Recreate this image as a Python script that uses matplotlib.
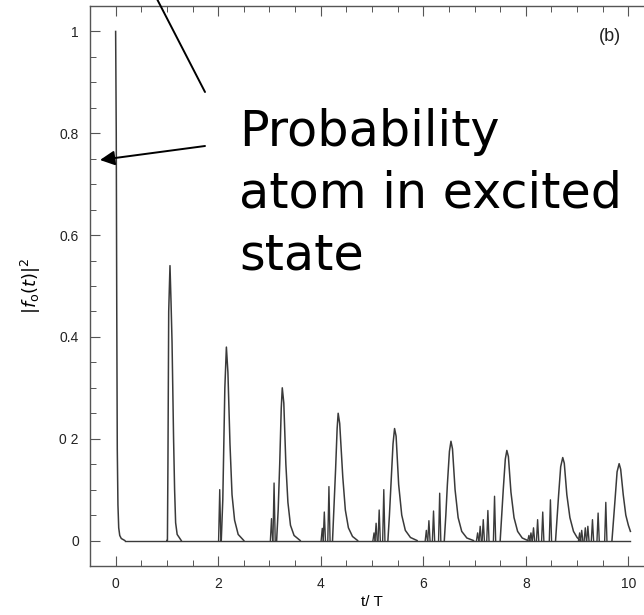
import numpy as np
import matplotlib
matplotlib.use("Agg")
import matplotlib.pyplot as plt
from matplotlib.ticker import MultipleLocator, FixedLocator

# main envelope of |f0(t)|^2 (t/T, value)
peak_t = [
    [0.0, 0.012, 0.022, 0.032, 0.045, 0.06, 0.08, 0.11, 0.18],
    [1.0, 1.01, 1.02, 1.035, 1.06, 1.08, 1.10, 1.13, 1.15, 1.17, 1.20, 1.28],
    [2.05, 2.06, 2.09, 2.11, 2.13, 2.16, 2.19, 2.23, 2.27, 2.32, 2.39, 2.50],
    [3.14, 3.17, 3.20, 3.23, 3.25, 3.28, 3.32, 3.36, 3.41, 3.48, 3.60],
    [4.23, 4.26, 4.29, 4.32, 4.34, 4.37, 4.43, 4.48, 4.54, 4.62, 4.72],
    [5.31, 5.34, 5.37, 5.41, 5.44, 5.47, 5.52, 5.58, 5.65, 5.75, 5.88],
    [6.41, 6.44, 6.47, 6.51, 6.54, 6.57, 6.62, 6.68, 6.75, 6.85, 6.98],
    [7.50, 7.53, 7.56, 7.60, 7.63, 7.66, 7.71, 7.77, 7.84, 7.93, 8.04],
    [8.58, 8.61, 8.64, 8.68, 8.72, 8.75, 8.80, 8.86, 8.93, 9.00, 9.06],
    [9.68, 9.71, 9.74, 9.78, 9.82, 9.85, 9.90, 9.95, 10.0, 10.04],
]
peak_p = [
    [1.0, 0.80, 0.45, 0.18, 0.07, 0.025, 0.01, 0.004, 0.0],
    [0.0, 0.0, 0.15, 0.45, 0.54, 0.47, 0.39, 0.20, 0.10, 0.035, 0.012, 0.0],
    [0.0, 0.0, 0.08, 0.19, 0.30, 0.38, 0.33, 0.19, 0.09, 0.04, 0.012, 0.0],
    [0.0, 0.06, 0.15, 0.26, 0.30, 0.27, 0.15, 0.075, 0.03, 0.01, 0.0],
    [0.0, 0.07, 0.14, 0.22, 0.25, 0.23, 0.125, 0.06, 0.025, 0.008, 0.0],
    [0.0, 0.05, 0.11, 0.19, 0.22, 0.205, 0.11, 0.05, 0.02, 0.006, 0.0],
    [0.0, 0.05, 0.11, 0.175, 0.195, 0.18, 0.10, 0.045, 0.018, 0.005, 0.0],
    [0.0, 0.05, 0.10, 0.16, 0.177, 0.165, 0.095, 0.045, 0.018, 0.005, 0.0],
    [0.0, 0.045, 0.09, 0.145, 0.163, 0.152, 0.09, 0.045, 0.018, 0.006, 0.0],
    [0.0, 0.04, 0.08, 0.135, 0.151, 0.14, 0.09, 0.05, 0.03, 0.018],
]

# narrow precursor spikes before each revival
spike_t = [2.03, 3.04, 3.09, 4.03, 4.07, 4.16, 5.04, 5.08, 5.14, 5.23,
           6.06, 6.11, 6.20, 6.32, 7.06, 7.11, 7.17, 7.26, 7.39,
           8.06, 8.10, 8.15, 8.23, 8.33, 8.48,
           9.05, 9.09, 9.16, 9.21, 9.30, 9.41, 9.56]
spike_h = [0.10, 0.043, 0.113, 0.024, 0.056, 0.106, 0.015, 0.034, 0.06, 0.10,
           0.02, 0.039, 0.058, 0.093, 0.015, 0.028, 0.041, 0.059, 0.087,
           0.01, 0.015, 0.025, 0.041, 0.056, 0.08,
           0.015, 0.02, 0.025, 0.028, 0.041, 0.054, 0.075]

yticks = [0, 0.2, 0.4, 0.6, 0.8, 1]
ytick_labels = ["0", "0 2", "0.4", "0.6", "0.8", "1"]
xticks = [0, 2, 4, 6, 8, 10]

CURVE = "#3a3a3a"
AXC = "#555555"
W = 0.022  # half base width of a spike

fig = plt.figure(figsize=(6.44, 6.15), dpi=100)
ax = fig.add_axes([90 / 644, 49 / 615, 564 / 644, 560 / 615])

# flat baseline joining the peaks, then the peaks themselves
ax.plot([0.18, 10.04], [0, 0], color=CURVE, lw=1.0)
for t, p in zip(peak_t, peak_p):
    ax.plot(t, p, color=CURVE, lw=1.1)
for t, h in zip(spike_t, spike_h):
    ax.plot([t - W, t, t + W], [0, h, 0], color=CURVE, lw=1.0)

ax.set_xlim(-0.5, 10.5)
ax.set_ylim(-0.05, 1.05)
ax.xaxis.set_major_locator(FixedLocator(xticks))
ax.xaxis.set_minor_locator(MultipleLocator(0.5))
ax.yaxis.set_major_locator(FixedLocator(yticks))
ax.yaxis.set_minor_locator(MultipleLocator(0.05))
ax.set_yticklabels(ytick_labels)
ax.tick_params(which="both", direction="in", top=True, right=False,
               color=AXC, labelsize=10, labelcolor="#222222")
ax.tick_params(which="major", length=7, width=0.8, pad=8)
ax.tick_params(which="minor", length=4, width=0.7)
for s in ax.spines.values():
    s.set_color(AXC)
    s.set_linewidth(1.0)
for lab in ax.get_xticklabels() + ax.get_yticklabels():
    lab.set_family("Liberation Sans")

ax.set_xlabel("t/ T", fontsize=11, family="Liberation Sans", labelpad=3)
ax.set_ylabel(r"$|f_{\rm o}(t)|^2$", fontsize=13, labelpad=12)

ax.text(9.65, 0.99, "(b)", fontsize=13, ha="center", va="center",
        family="Liberation Sans", color="#222222")

fig.text(239 / 644, 1 - 108 / 615, "Probability\natom in excited\nstate",
         fontsize=35.5, ha="left", va="top", linespacing=1.36,
         family="DejaVu Sans")

ax.annotate("", xy=(100, 615 - 160), xycoords="figure pixels",
            xytext=(205, 615 - 146), textcoords="figure pixels",
            arrowprops=dict(arrowstyle="-|>", mutation_scale=22, lw=1.4,
                            color="black", shrinkA=0, shrinkB=0))
ax.annotate("", xy=(157, 616), xycoords="figure pixels",
            xytext=(205, 615 - 92), textcoords="figure pixels",
            arrowprops=dict(arrowstyle="-", lw=1.4, color="black",
                            shrinkA=0, shrinkB=0), annotation_clip=False)

fig.savefig("out.png", dpi=100)
